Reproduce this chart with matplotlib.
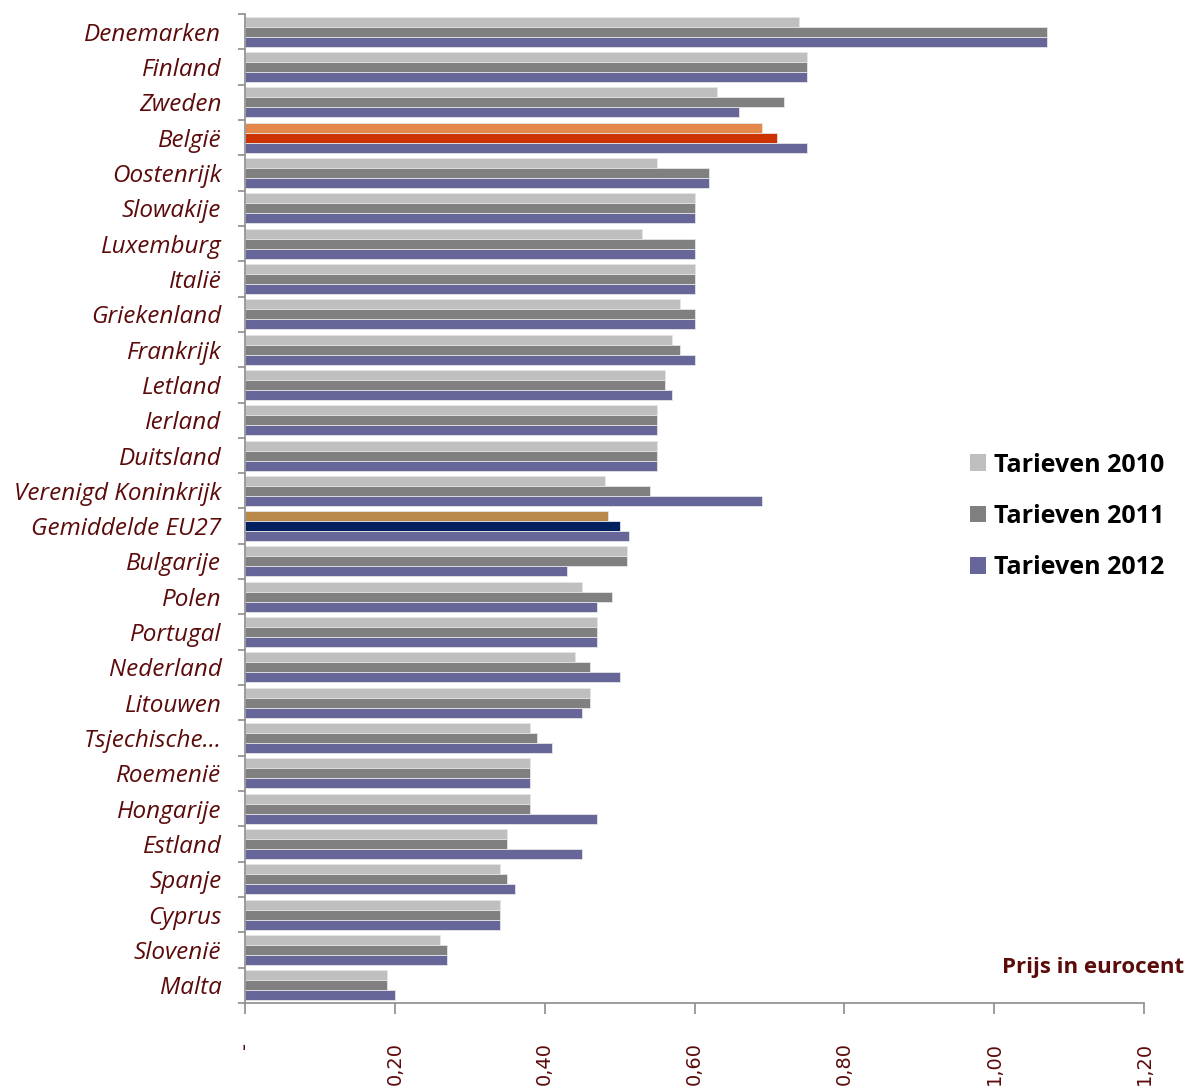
import matplotlib.pyplot as plt
import numpy as np
from matplotlib.patches import Patch
from matplotlib.ticker import FixedLocator, FuncFormatter

# Electricity network tariffs per country (eurocent), 2010-2012
countries = [
    "Denemarken", "Finland", "Zweden", "België", "Oostenrijk", "Slowakije",
    "Luxemburg", "Italië", "Griekenland", "Frankrijk", "Letland", "Ierland",
    "Duitsland", "Verenigd Koninkrijk", "Gemiddelde EU27", "Bulgarije", "Polen",
    "Portugal", "Nederland", "Litouwen", "Tsjechische…", "Roemenië",
    "Hongarije", "Estland", "Spanje", "Cyprus", "Slovenië", "Malta",
]
tarief_2010 = [0.74, 0.75, 0.63, 0.69, 0.55, 0.60, 0.53, 0.60, 0.58, 0.57,
               0.56, 0.55, 0.55, 0.48, 0.485, 0.51, 0.45, 0.47, 0.44, 0.46,
               0.38, 0.38, 0.38, 0.35, 0.34, 0.34, 0.26, 0.19]
tarief_2011 = [1.07, 0.75, 0.72, 0.71, 0.62, 0.60, 0.60, 0.60, 0.60, 0.58,
               0.56, 0.55, 0.55, 0.54, 0.50, 0.51, 0.49, 0.47, 0.46, 0.46,
               0.39, 0.38, 0.38, 0.35, 0.35, 0.34, 0.27, 0.19]
tarief_2012 = [1.07, 0.75, 0.66, 0.75, 0.62, 0.60, 0.60, 0.60, 0.60, 0.60,
               0.57, 0.55, 0.55, 0.69, 0.513, 0.43, 0.47, 0.47, 0.50, 0.45,
               0.41, 0.38, 0.47, 0.45, 0.36, 0.34, 0.27, 0.20]
series_labels = ["Tarieven 2010", "Tarieven 2011", "Tarieven 2012"]
x_ticks = [0, 0.2, 0.4, 0.6, 0.8, 1.0, 1.2]

colors = ["#BFBFBF", "#808080", "#666699"]
# highlighted rows get their own colours for 2010 / 2011
highlight = {
    "België": ["#E3874A", "#CC3300"],
    "Gemiddelde EU27": ["#B8894A", "#002060"],
}
label_color = "#5C0B0B"
axis_color = "#8C8C8C"

plt.rcParams["font.family"] = ["Open Sans", "DejaVu Sans"]

fig = plt.figure(figsize=(11.89, 10.88), dpi=100)
ax = fig.add_axes([245 / 1189, 85 / 1088, 899 / 1189, 989 / 1088])

n = len(countries)
ypos = np.arange(n)
bar_h = 0.283
offsets = [-bar_h, 0, bar_h]

for i, (vals, off) in enumerate(zip([tarief_2010, tarief_2011, tarief_2012], offsets)):
    cols = [highlight[c][i] if (c in highlight and i < 2) else colors[i] for c in countries]
    ax.barh(ypos + off, vals, height=bar_h, color=cols,
            edgecolor="#E6E6E6", linewidth=0.6, zorder=2)

ax.set_xlim(0, 1.2)
ax.set_ylim(n - 0.5, -0.5)

# category labels
ax.set_yticks(ypos)
ax.set_yticklabels(countries, fontsize=17.5, style="italic", color=label_color)
ax.tick_params(axis="y", which="major", length=0, pad=17)
ax.yaxis.set_minor_locator(FixedLocator(np.arange(-0.5, n, 1.0)))
ax.tick_params(axis="y", which="minor", length=5, width=1.2, color=axis_color,
               direction="out")

# value axis
ax.xaxis.set_major_locator(FixedLocator(x_ticks))
ax.xaxis.set_major_formatter(FuncFormatter(
    lambda v, p: "-" if abs(v) < 1e-9 else f"{v:.2f}".replace(".", ",")))
ax.tick_params(axis="x", length=8, width=1.2, color=axis_color, direction="out",
               pad=20, labelsize=14, labelcolor=label_color, labelrotation=90)
for lbl in ax.get_xticklabels():
    lbl.set_fontfamily("DejaVu Sans")

for side in ["top", "right"]:
    ax.spines[side].set_visible(False)
for side in ["left", "bottom"]:
    ax.spines[side].set_color(axis_color)
    ax.spines[side].set_linewidth(1.2)

handles = [Patch(facecolor=c, edgecolor="none") for c in colors]
fig.legend(handles, series_labels, loc="upper left",
           bbox_to_anchor=(947 / 1189, 1 - 430 / 1088), frameon=False,
           prop={"weight": "bold", "size": 18}, handlelength=0.65,
           handleheight=0.65, handletextpad=0.35, labelspacing=1.05)

fig.text(1184 / 1189, 1 - 967 / 1088, "Prijs in eurocent", ha="right", va="center",
         fontsize=16, fontweight="bold", color=label_color)

fig.savefig("out.png", dpi=100)
